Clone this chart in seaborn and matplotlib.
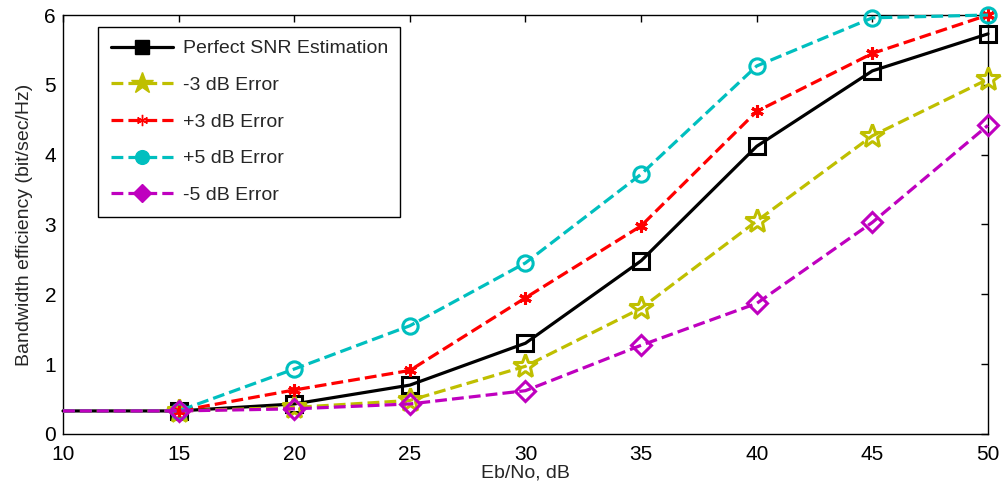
import matplotlib
matplotlib.use("Agg")
import matplotlib.pyplot as plt
from matplotlib.lines import Line2D
import seaborn as sns
import pandas as pd

# Eb/No sweep (dB) and bandwidth efficiency for each SNR-estimation case
ebno = [10, 15, 20, 25, 30, 35, 40, 45, 50]
perfect = [0.33, 0.33, 0.43, 0.70, 1.30, 2.48, 4.12, 5.20, 5.73]
minus3 = [0.33, 0.33, 0.38, 0.48, 0.97, 1.80, 3.05, 4.27, 5.08]
plus3 = [0.33, 0.33, 0.63, 0.91, 1.95, 2.98, 4.62, 5.45, 6.00]
plus5 = [0.33, 0.33, 0.93, 1.55, 2.45, 3.72, 5.27, 5.96, 6.00]
minus5 = [0.33, 0.33, 0.36, 0.43, 0.62, 1.27, 1.87, 3.03, 4.42]

labels = ["Perfect SNR Estimation", "-3 dB Error", "+3 dB Error",
          "+5 dB Error", "-5 dB Error"]
series = [perfect, minus3, plus3, plus5, minus5]
colors = ["black", (0.75, 0.75, 0.0), "red", (0.0, 0.75, 0.75), (0.75, 0.0, 0.75)]
markers = ["s", "*", (6, 2, 0), "o", "D"]
msizes = [11, 18, 9, 11, 10]
styles = ["-", "--", "--", "--", "--"]

sns.set_theme(style="white")
plt.rcParams["font.family"] = ["Liberation Sans", "DejaVu Sans"]
plt.rcParams["xtick.direction"] = "in"
plt.rcParams["ytick.direction"] = "in"

fig = plt.figure(figsize=(10.03, 4.94), dpi=100)
ax = fig.add_axes([0.0628, 0.1215, 0.9222, 0.8481])

for vals, lab, c, m, ms, ls in zip(series, labels, colors, markers, msizes, styles):
    df = pd.DataFrame({"x": ebno, "y": vals})
    sns.lineplot(data=df, x="x", y="y", ax=ax, color=c, linestyle=ls,
                 linewidth=2.3, marker=m, markersize=ms, markevery=slice(1, None),
                 markerfacecolor="none", markeredgecolor=c, markeredgewidth=2.2,
                 clip_on=False, zorder=3)

ax.set_xlim(10, 50)
ax.set_ylim(0, 6)
ax.set_xticks(range(10, 51, 5))
ax.set_yticks(range(0, 7))
ax.set_xlabel("Eb/No, dB", fontsize=14, labelpad=0)
ax.set_ylabel("Bandwidth efficiency (bit/sec/Hz)", fontsize=14, labelpad=8)
ax.tick_params(axis="both", labelsize=15, length=5, width=1, colors="black",
               top=True, right=True, direction="in")
ax.tick_params(axis="x", pad=8)
ax.tick_params(axis="y", pad=5)
ax.grid(False)
for sp in ax.spines.values():
    sp.set_color("black")
    sp.set_linewidth(1)

handles = [Line2D([], [], color=c, linestyle=ls, linewidth=2.3, marker=m,
                  markersize=ms * 0.9, markerfacecolor=c, markeredgecolor=c)
           for c, m, ms, ls in zip(colors, markers, msizes, styles)]
leg = ax.legend(handles, labels, loc="upper left", bbox_to_anchor=(0.0378, 0.971),
                borderaxespad=0, fontsize=14, frameon=True, fancybox=False,
                framealpha=1, edgecolor="black", handlelength=3.2, borderpad=0.65,
                labelspacing=0.98, handletextpad=0.5)
leg.get_frame().set_linewidth(1)

fig.savefig("out.png", dpi=100, facecolor="white")
